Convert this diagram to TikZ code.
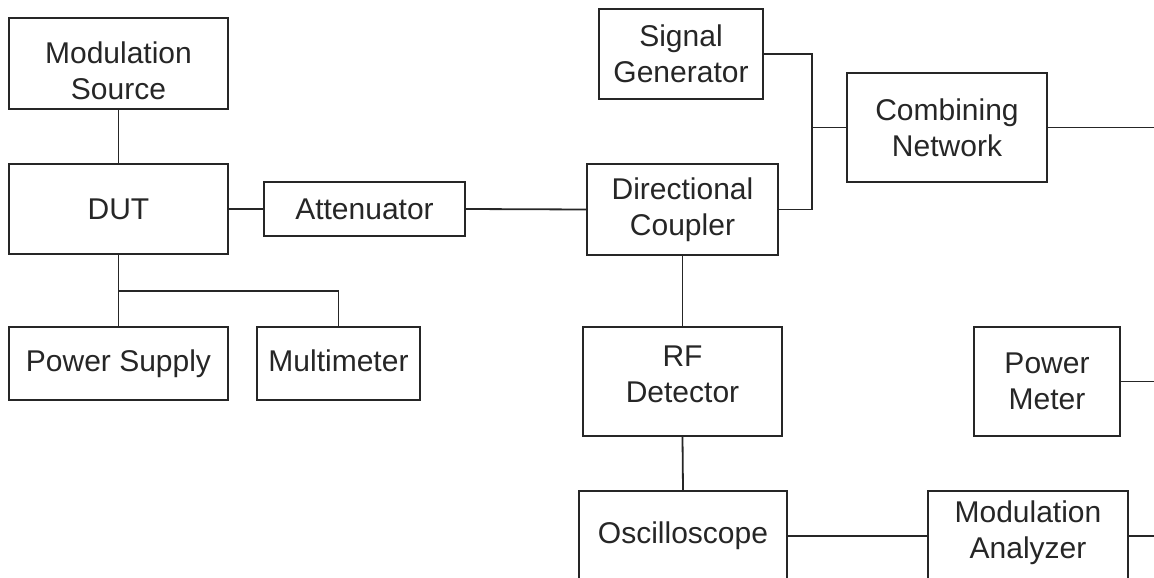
\documentclass[tikz,border=0pt]{standalone}
\usepackage{fontspec}
\setmainfont{Liberation Sans}
\usetikzlibrary{calc}
\tikzset{>=latex}
\tikzset{ % block options
  box/.style={draw, line width=1.8pt, align=center, inner sep=0pt, font=\fontsize{30}{36}\selectfont}
}

\begin{document}
\begin{tikzpicture}[x=1pt, y=-1pt, line width=1.8pt, color=black!85]
\useasboundingbox (0,0) rectangle (1154,578);
\clip (0,0) rectangle (1154,578);
\node[box, minimum width=219pt, minimum height=91pt] (modsrc) at (118.5,63.5) {\rule{0pt}{37pt}Modulation\\Source};
\node[box, minimum width=219pt, minimum height=90pt] (dut) at (118.5,209) {DUT};
\node[box, minimum width=201pt, minimum height=54pt] (atten) at (364.5,209) {Attenuator};
\node[box, minimum width=219pt, minimum height=73pt] (psu) at (118.5,363.5) {Power Supply};
\node[box, minimum width=163pt, minimum height=73pt, text depth=6.5pt] (mmeter) at (338.5,363.5) {Multimeter};
\node[box, minimum width=164pt, minimum height=90pt] (siggen) at (681,54) {Signal\\Generator};
\node[box, minimum width=191pt, minimum height=91pt] (coupler) at (682.5,209.5) {Directional\\Coupler};
\node[box, minimum width=200pt, minimum height=109pt] (combnet) at (947,127.5) {Combining\\Network};
\node[box, minimum width=199pt, minimum height=109pt] (rfdet) at (682.5,381.5) {RF\\Detector\rule[-15pt]{0pt}{15pt}};
\node[box, minimum width=146pt, minimum height=109pt] (pwrmeter) at (1047,381.5) {Power\\Meter};
\node[box, minimum width=208pt, minimum height=90pt] (scope) at (683,536) {Oscilloscope};
\node[box, minimum width=200pt, minimum height=90pt] (modana) at (1028,536) {Modulation\\Analyzer\rule[-13pt]{0pt}{13pt}};
\coordinate (dutTap) at (118.5,291);
\coordinate (join) at (812,0);
\coordinate (rim) at (1154,0);
\draw (modsrc.south)--(dut.north);
\draw (dut.east)--(atten.west);
\draw (atten.east)--(coupler.west);
\draw (dut.south)--(psu.north);
\draw (dutTap) -| (mmeter.north);
\draw (siggen.east) -| (join |- combnet.west)--(combnet.west);
\draw (coupler.east) -| (join |- combnet.west);
\draw (combnet.east)--(combnet.east -| rim);
\draw (coupler.south)--(rfdet.north);
\draw (rfdet.south)--(scope.north);
\draw (scope.east)--(modana.west);
\draw (modana.east)--(modana.east -| rim);
\draw (pwrmeter.east)--(pwrmeter.east -| rim);
\end{tikzpicture}
\end{document}
